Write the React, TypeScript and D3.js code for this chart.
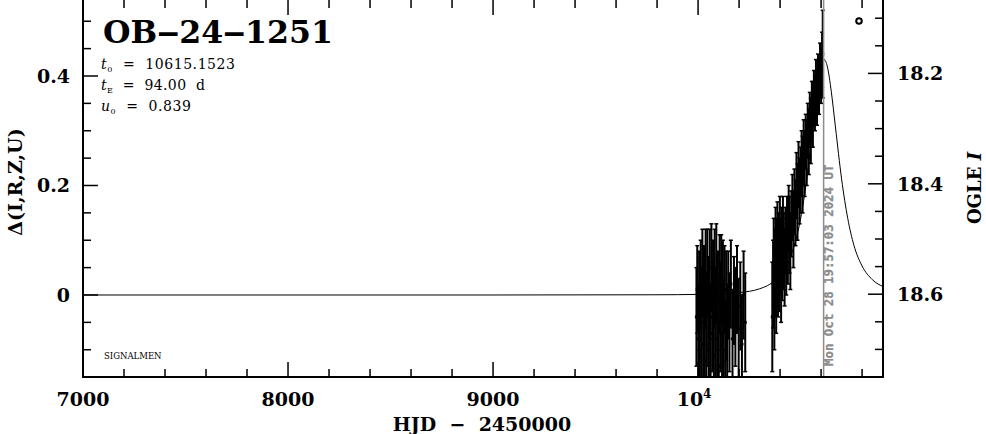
import React, { useEffect, useRef } from 'react';
import * as d3 from 'd3';

// OGLE observations, HJD - 2450000
const obsHjd = [
  9992, 9996, 10001, 10005, 10009, 10013, 10017, 10021, 10025, 10029,
  10033, 10037, 10041, 10045, 10049, 10053, 10057, 10061, 10065, 10069,
  10073, 10077, 10081, 10085, 10089, 10093, 10097, 10101, 10105, 10109,
  10113, 10117, 10121, 10125, 10129, 10133, 10137, 10142, 10147, 10153,
  10160, 10168, 10175, 10182, 10190, 10198, 10206, 10214, 10222, 10230,
  10362, 10366, 10369, 10372, 10375, 10378, 10381, 10384, 10387, 10390,
  10393, 10396, 10399, 10402, 10405, 10408, 10411, 10414, 10418, 10422,
  10426, 10430, 10434, 10438, 10442, 10446, 10450, 10455, 10460, 10465,
  10470, 10475, 10480, 10485, 10490, 10495, 10500, 10505, 10510, 10515,
  10520, 10525, 10530, 10535, 10540, 10545, 10550, 10555, 10560, 10565,
  10570, 10575, 10580, 10585, 10590, 10595, 10600, 10605, 10608,
];
const obsDelta = [
  -0.04, 0.01, -0.08, -0.01, -0.11, 0.02, -0.05, 0.04, -0.09, 0.00,
  -0.12, 0.03, -0.06, 0.04, -0.03, -0.10, 0.02, -0.07, 0.05, -0.04,
  0.01, -0.11, 0.03, -0.05, 0.04, -0.08, -0.01, -0.13, 0.02, -0.04,
  0.03, -0.09, 0.00, -0.06, 0.01, -0.10, -0.02, -0.07, 0.00, -0.05,
  0.02, -0.08, -0.01, -0.04, 0.01, -0.06, -0.02, -0.09, 0.00, -0.05,
  -0.04, 0.02, 0.06, -0.01, 0.04, 0.08, 0.02, 0.06, 0.10, 0.04,
  0.08, 0.05, 0.11, 0.07, 0.03, 0.09, 0.06, 0.12, 0.08, 0.05,
  0.10, 0.07, 0.12, 0.09, 0.14, 0.11, 0.08, 0.13, 0.16, 0.12,
  0.17, 0.15, 0.20, 0.17, 0.22, 0.19, 0.21, 0.24, 0.22, 0.26,
  0.24, 0.28, 0.26, 0.30, 0.28, 0.32, 0.30, 0.34, 0.33, 0.36,
  0.35, 0.37, 0.36, 0.39, 0.38, 0.41, 0.40, 0.43, 0.44,
];
const obsErr = [
  0.09, 0.08, 0.10, 0.09, 0.09, 0.08, 0.10, 0.08, 0.10, 0.09,
  0.09, 0.09, 0.10, 0.08, 0.10, 0.09, 0.10, 0.09, 0.08, 0.10,
  0.09, 0.09, 0.09, 0.10, 0.09, 0.10, 0.09, 0.08, 0.09, 0.10,
  0.08, 0.09, 0.10, 0.09, 0.08, 0.09, 0.10, 0.09, 0.08, 0.09,
  0.08, 0.09, 0.08, 0.09, 0.08, 0.09, 0.08, 0.09, 0.08, 0.09,
  0.10, 0.08, 0.08, 0.09, 0.08, 0.08, 0.09, 0.08, 0.07, 0.08,
  0.07, 0.08, 0.07, 0.07, 0.08, 0.07, 0.07, 0.06, 0.07, 0.07,
  0.06, 0.07, 0.06, 0.07, 0.06, 0.07, 0.07, 0.06, 0.06, 0.07,
  0.06, 0.06, 0.06, 0.07, 0.06, 0.06, 0.06, 0.06, 0.07, 0.06,
  0.06, 0.05, 0.06, 0.05, 0.06, 0.05, 0.06, 0.05, 0.06, 0.05,
  0.05, 0.06, 0.05, 0.05, 0.05, 0.05, 0.05, 0.05, 0.08,
];

// model light curve
const modelHjd = [
  7000, 9000, 9800, 10000, 10100, 10200, 10300, 10350, 10400, 10450,
  10500, 10530, 10560, 10580, 10600, 10615, 10630, 10650, 10670, 10700,
  10730, 10760, 10800, 10850, 10905,
];
const modelDelta = [
  0, 0, 0.0004, 0.0011, 0.0023, 0.0044, 0.0113, 0.0196, 0.0356, 0.0689,
  0.139, 0.211, 0.306, 0.37, 0.418, 0.43, 0.418, 0.371, 0.307, 0.212,
  0.14, 0.091, 0.053, 0.028, 0.015,
];

const xTickValues = [7000, 8000, 9000, 10000];
const xTickLabels = ['7000', '8000', '9000', '10'];
const yTickValues = [0, 0.2, 0.4];
const yTickLabels = ['0', '0.2', '0.4'];
const magTickValues = [18.2, 18.4, 18.6];
const magTickLabels = ['18.2', '18.4', '18.6'];

const eventName = 'OB\u201224\u20121251';
const paramNames = ['t', 't', 'u'];
const paramSubs = ['0', 'E', '0'];
const paramValues = ['10615.1523', '94.00  d', '0.839'];
const paramWidths = [134, 104, 90];
const nowHjd = 10612.33;
const nowLabel = 'Mon Oct 28 19:57:03 2024 UT';

const W = 986;
const H = 434;
const L = 83;
const R = 883;
const T = 0;
const B = 377;

const serif = '"DejaVu Serif", serif';

const App: React.FC = () => {
  const svgRef = useRef<SVGSVGElement | null>(null);

  useEffect(() => {
    if (!svgRef.current) return;
    const svg = d3.select(svgRef.current);
    svg.selectAll('*').remove();

    const x = d3.scaleLinear().domain([7000, 10902]).range([L, R]);
    const y = d3.scaleLinear().domain([-0.1498, 0.5388]).range([B, T]);
    const ym = d3.scaleLinear().domain([18.75, 18.067]).range([B, T]);

    svg.append('defs')
      .append('clipPath')
      .attr('id', 'plot')
      .append('rect')
      .attr('x', L)
      .attr('y', -2)
      .attr('width', R - L)
      .attr('height', B + 2);

    const plot = svg.append('g').attr('clip-path', 'url(#plot)');

    // model
    const line = d3
      .line<number>()
      .x((d, i) => x(modelHjd[i]))
      .y((d) => y(d))
      .curve(d3.curveMonotoneX);
    plot.append('path')
      .attr('d', line(modelDelta))
      .attr('fill', 'none')
      .attr('stroke', '#000')
      .attr('stroke-width', 1);

    // error bars
    const idx = d3.range(obsHjd.length);
    plot.selectAll('.eb')
      .data(idx)
      .enter()
      .append('line')
      .attr('x1', (i) => x(obsHjd[i]))
      .attr('x2', (i) => x(obsHjd[i]))
      .attr('y1', (i) => y(obsDelta[i] - obsErr[i]))
      .attr('y2', (i) => y(obsDelta[i] + obsErr[i]))
      .attr('stroke', '#000')
      .attr('stroke-width', 2);
    plot.selectAll('.cap')
      .data(idx.flatMap((i) => [[i, 1], [i, -1]]))
      .enter()
      .append('line')
      .attr('x1', (d) => x(obsHjd[d[0]]) - 2)
      .attr('x2', (d) => x(obsHjd[d[0]]) + 2)
      .attr('y1', (d) => y(obsDelta[d[0]] + d[1] * obsErr[d[0]]))
      .attr('y2', (d) => y(obsDelta[d[0]] + d[1] * obsErr[d[0]]))
      .attr('stroke', '#000')
      .attr('stroke-width', 1.5);
    plot.selectAll('.pt')
      .data(idx)
      .enter()
      .append('rect')
      .attr('x', (i) => x(obsHjd[i]) - 1.5)
      .attr('y', (i) => y(obsDelta[i]) - 1.5)
      .attr('width', 3)
      .attr('height', 3)
      .attr('fill', '#000');

    // current time
    const xn = x(nowHjd);
    svg.append('line')
      .attr('x1', xn).attr('x2', xn)
      .attr('y1', T).attr('y2', B)
      .attr('stroke', '#8c8c8c')
      .attr('stroke-width', 1.5);
    svg.append('text')
      .attr('transform', `translate(${xn + 9.5},${B - 11}) rotate(-90)`)
      .attr('font-family', '"DejaVu Sans Mono", monospace')
      .attr('font-weight', 'bold')
      .attr('font-size', 12.4)
      .attr('fill', '#8c8c8c')
      .attr('stroke', '#8c8c8c')
      .attr('stroke-width', 0.3)
      .text(nowLabel);

    // frame
    svg.append('rect')
      .attr('x', L).attr('y', T - 2)
      .attr('width', R - L).attr('height', B - T + 2)
      .attr('fill', 'none')
      .attr('stroke', '#000')
      .attr('stroke-width', 2);

    const ticks = svg.append('g').attr('stroke', '#000').attr('stroke-width', 1.5);
    const xMinor = d3.range(7000, 10901, 200);
    xMinor.forEach((v) => {
      const len = v % 1000 === 0 ? 15 : 8;
      ticks.append('line').attr('x1', x(v)).attr('x2', x(v)).attr('y1', B).attr('y2', B - len);
      ticks.append('line').attr('x1', x(v)).attr('x2', x(v)).attr('y1', T).attr('y2', T + len);
    });
    const yMinor = d3.range(-3, 11).map((k) => k * 0.05);
    yMinor.forEach((v) => {
      const len = Math.abs(Math.round(v * 100)) % 20 === 0 ? 15 : 8;
      ticks.append('line').attr('x1', L).attr('x2', L + len).attr('y1', y(v)).attr('y2', y(v));
    });
    const mMinor = d3.range(362, 376).map((k) => k * 0.05);
    mMinor.forEach((v) => {
      const len = Math.round(v * 100) % 20 === 0 ? 15 : 8;
      ticks.append('line').attr('x1', R).attr('x2', R - len).attr('y1', ym(v)).attr('y2', ym(v));
    });

    // tick labels
    const lab = svg.append('g')
      .attr('font-family', serif)
      .attr('font-weight', 'bold')
      .attr('font-size', 19)
      .attr('fill', '#000');
    xTickValues.forEach((v, i) => {
      const t = lab.append('text')
        .attr('x', x(v) - (v === 10000 ? 4 : 0))
        .attr('y', 406)
        .attr('text-anchor', 'middle')
        .text(xTickLabels[i]);
      if (v === 10000) {
        t.append('tspan').attr('font-size', 12).attr('dy', -8).text('4');
      }
    });
    yTickValues.forEach((v, i) => {
      lab.append('text')
        .attr('x', 70)
        .attr('y', y(v) + 7)
        .attr('text-anchor', 'end')
        .text(yTickLabels[i]);
    });
    magTickValues.forEach((v, i) => {
      lab.append('text')
        .attr('x', 897)
        .attr('y', ym(v) + 7)
        .text(magTickLabels[i]);
    });

    // axis titles
    lab.append('text')
      .attr('x', 482)
      .attr('y', 431)
      .attr('text-anchor', 'middle')
      .attr('xml:space', 'preserve')
      .text('HJD  \u2212  2450000');
    lab.append('text')
      .attr('transform', 'translate(22,182) rotate(-90)')
      .attr('text-anchor', 'middle')
      .text('\u0394(I,R,Z,U)');
    const og = lab.append('text')
      .attr('transform', 'translate(981,188) rotate(-90)')
      .attr('text-anchor', 'middle')
      .attr('font-size', 18)
      .attr('xml:space', 'preserve');
    og.append('tspan').text('OGLE ');
    og.append('tspan').attr('font-style', 'italic').text('I');

    // title and parameters
    svg.append('text')
      .attr('x', 103)
      .attr('y', 43)
      .attr('font-family', serif)
      .attr('font-weight', 'bold')
      .attr('font-size', 32)
      .attr('fill', '#000')
      .attr('textLength', 230)
      .attr('lengthAdjust', 'spacingAndGlyphs')
      .text(eventName);
    paramNames.forEach((n, i) => {
      const t = svg.append('text')
        .attr('x', 101)
        .attr('y', 69 + i * 21)
        .attr('font-family', serif)
        .attr('font-size', 14)
        .attr('fill', '#000')
        .attr('xml:space', 'preserve')
        .attr('textLength', paramWidths[i])
        .attr('lengthAdjust', 'spacing');
      t.append('tspan').attr('font-style', 'italic').text(n);
      t.append('tspan').attr('font-size', 8).attr('dy', 3).text(paramSubs[i]);
      t.append('tspan').attr('dy', -3).text(`  =  ${paramValues[i]}`);
    });

    svg.append('text')
      .attr('x', 104)
      .attr('y', 359)
      .attr('font-family', serif)
      .attr('font-size', 8.5)
      .attr('fill', '#000')
      .text('SIGNALMEN');

    svg.append('circle')
      .attr('cx', 859)
      .attr('cy', 21)
      .attr('r', 2.8)
      .attr('fill', 'none')
      .attr('stroke', '#000')
      .attr('stroke-width', 2);
  }, []);

  return (
    <svg
      ref={svgRef}
      width={W}
      height={H}
      style={{ position: 'absolute', left: 0, top: 0, background: '#fff' }}
    />
  );
};

export default App;
